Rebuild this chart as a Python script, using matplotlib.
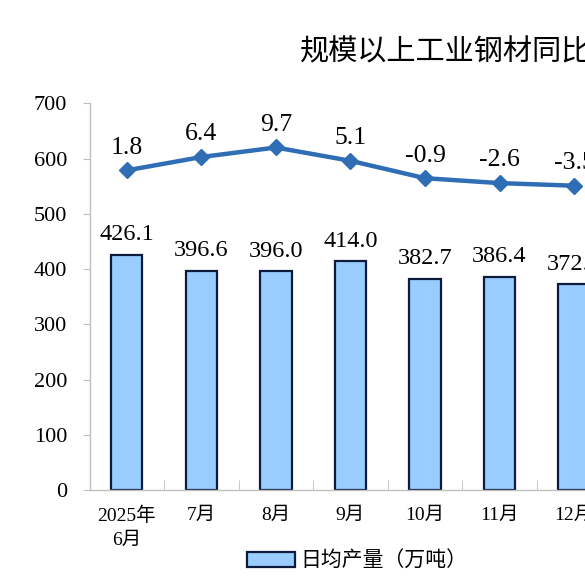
import matplotlib
matplotlib.use("Agg")
import matplotlib.pyplot as plt
from matplotlib.patches import Patch

plt.rcParams['font.family'] = ['Liberation Serif', 'Noto Sans CJK SC', 'DejaVu Sans']

months = ['2025年\n6月', '7月', '8月', '9月', '10月', '11月', '12月']
daily_output = [426.1, 396.6, 396.0, 414.0, 382.7, 386.4, 372.5]
yoy_growth = [1.8, 6.4, 9.7, 5.1, -0.9, -2.6, -3.5]

bar_color = '#99CCFF'
bar_edge = '#0D1B3D'
line_color = '#2F6DB5'
axis_gray = '#C0C0C0'

fig = plt.figure(figsize=(5.85, 5.85), dpi=100)
ax = fig.add_axes([0.153, 0.1624, 0.892, 0.6607])
x = list(range(len(months)))

ax.bar(x, daily_output, width=0.42, color=bar_color, edgecolor=bar_edge, linewidth=1.6, zorder=2)
for xi, v in zip(x, daily_output):
    ax.annotate(f'{v:.1f}', (xi, v), xytext=(0, 14.5), textcoords='offset points',
                ha='center', va='center', fontsize=17.5)

ax.set_xlim(-0.5, len(months) - 0.5)
ax.set_ylim(0, 700)
ax.set_yticks(range(0, 701, 100))
ax.set_xticks(x)
ax.set_xticklabels(months, fontsize=14, linespacing=1.5)
ax.set_xticks([i + 0.5 for i in x[:-1]], minor=True)
ax.tick_params(axis='x', which='major', length=0, pad=12)
ax.tick_params(axis='x', which='minor', direction='in', length=7, color=axis_gray)
ax.tick_params(axis='y', length=5, color=axis_gray, labelsize=16, pad=11)
for side in ['top', 'right']:
    ax.spines[side].set_visible(False)
for side in ['left', 'bottom']:
    ax.spines[side].set_color(axis_gray)
    ax.spines[side].set_linewidth(1.0)

ax2 = ax.twinx()
ax2.plot(x, yoy_growth, color=line_color, linewidth=3.2, marker='D', markersize=8, zorder=3)
for xi, v in zip(x, yoy_growth):
    ax2.annotate(f'{v:.1f}', (xi, v), xytext=(0, 16.3), textcoords='offset points',
                 ha='center', va='center', fontsize=18.5)
ax2.set_ylim(-108.6, 24.9)
ax2.axis('off')

fig.text(0.513, 0.911, '规模以上工业钢材同比增速和日均产量', ha='left', va='center',
         fontsize=21, family='Noto Sans CJK SC')

handles = [Patch(facecolor=bar_color, edgecolor=bar_edge, linewidth=1.6)]
fig.legend(handles, ['日均产量（万吨）'], loc='center left', bbox_to_anchor=(0.405, 0.04),
           frameon=False, fontsize=15, handlelength=2.3, handleheight=0.75,
           handletextpad=0.25, borderpad=0)

fig.savefig('out.png', dpi=100)
